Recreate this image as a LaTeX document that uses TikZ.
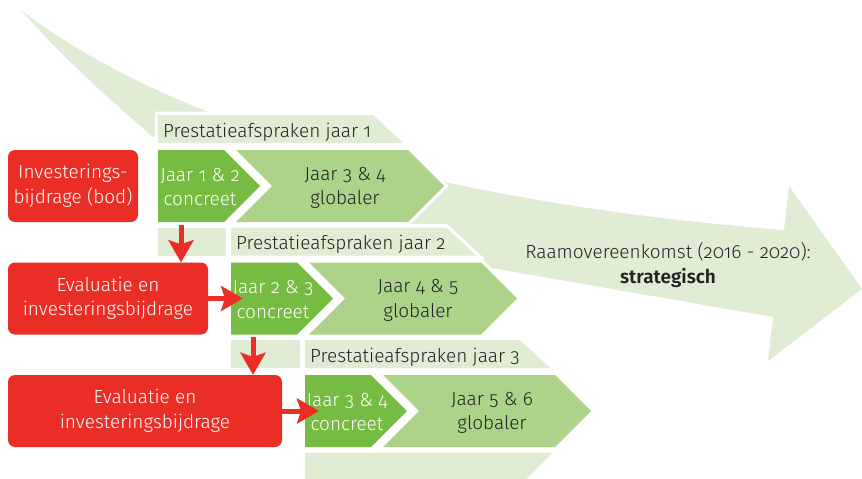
\documentclass[tikz,border=0pt]{standalone}
\usepackage{fontspec}
\setmainfont{Fira Sans Light}[Numbers=OldStyle,BoldFont={Fira Sans SemiBold}]
\usetikzlibrary{arrows.meta}
\definecolor{lg}{RGB}{224,237,212}
\definecolor{mg}{RGB}{173,211,138}
\definecolor{dg}{RGB}{118,188,67}
\definecolor{rd}{RGB}{234,45,37}
\definecolor{tx}{RGB}{35,35,35}
\begin{document}
\begin{tikzpicture}[x=1pt,y=-1pt,
  halo/.style={preaction={draw=white,line width=7pt,line join=miter}},
  txt/.style={font=\fontsize{19}{24.5}\selectfont,align=center,inner sep=0pt},
  redbox/.style={fill=rd,rounded corners=7pt,text=white,txt,inner sep=0pt},
  redarrow/.style={draw=rd,line width=5pt,-{Stealth[length=22pt,width=25pt,inset=4pt]}}]
\useasboundingbox (0,0) rectangle (862,479);
% big background arrow
\fill[lg] (21,10) .. controls (150,110) and (400,200) .. (784,230) -- (789,186) -- (862,289)
  -- (768,361) -- (773,317) -- (480,266) -- (430,250) -- (380,220) -- (300,140) -- (153,137)
  .. controls (110,100) and (60,55) .. (21,10) -- cycle;
% rows
\foreach \i/\x/\y/\a/\b/\c/\d in {1/158/115/1/2/3/4, 2/231/227.5/2/3/4/5, 3/305/340/3/4/5/6}{
  \fill[lg,halo] (\x,\y) -- ({\x+215},\y) -- ({\x+245},{\y+28}) -- (\x,{\y+28}) -- cycle;
  \node[txt,anchor=base west,text=tx] (b\i) at ({\x+5},{\y+22}) {Prestatieafspraken jaar \i};
  \fill[dg,halo] (\x,{\y+35}) -- ({\x+66},{\y+35}) -- ({\x+102},{\y+71}) -- ({\x+66},{\y+107}) -- (\x,{\y+107}) -- cycle;
  \fill[mg,halo] ({\x+78},{\y+35}) -- ({\x+250},{\y+35}) -- ({\x+286},{\y+71}) -- ({\x+250},{\y+107}) -- ({\x+78},{\y+107}) -- ({\x+114},{\y+71}) -- cycle;
  \node[txt,text=white] (c\i) at ({\x+42},{\y+72}) {Jaar \a{} \& \b\\concreet};
  \node[txt,text=tx] (g\i) at ({\x+187},{\y+73}) {Jaar \c{} \& \d\\globaler};
}
% small strips below concreet boxes
\fill[lg,halo] (158,227.5) rectangle (226,255.5);
\fill[lg,halo] (231,340) rectangle (300,368);
\fill[lg,halo] (305,452.5) -- (553,452.5) -- (526,479.5) -- (305,479.5) -- cycle;
% red boxes
\node[redbox,minimum width=130pt,minimum height=72pt] (r1) at (73,186) {Investerings-\\bijdrage (bod)};
\node[redbox,minimum width=200pt,minimum height=72pt] (r2) at (108,298.5) {Evaluatie en\\investeringsbijdrage};
\node[redbox,minimum width=274pt,minimum height=72pt] (r3) at (145,411) {Evaluatie en\\investeringsbijdrage};
% red arrows
\coordinate (v1) at (181,224.5);
\coordinate (v2) at (253,337);
\coordinate (h1) at (243,298.5);
\coordinate (h2) at (319,411);
\draw[redarrow] (v1) -- (v1 |- r2.north);
\draw[redarrow] (r2.east) -- (h1);
\draw[redarrow] (v2) -- (v2 |- r3.north);
\draw[redarrow] (r3.east) -- (h2);
% main label
\node[txt,text=tx] (raam) at (668,265) {Raamovereenkomst (2016 - 2020):\\\textbf{strategisch}};
\end{tikzpicture}
\end{document}
